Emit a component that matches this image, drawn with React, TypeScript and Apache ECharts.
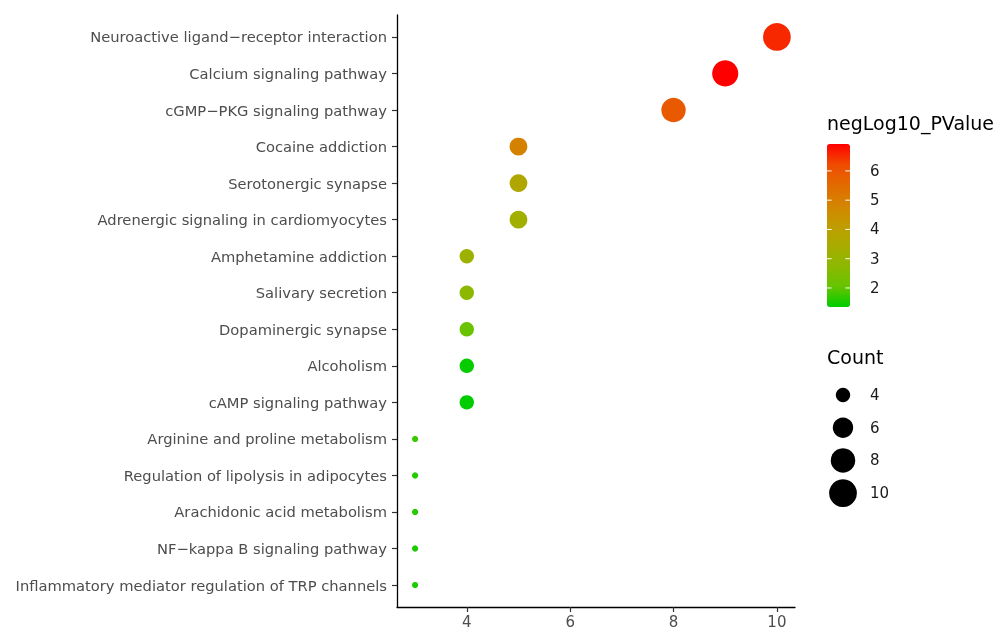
import React, { useEffect, useRef } from "react";
import * as echarts from "echarts";

const CATEGORIES = [
  "Neuroactive ligand\u2212receptor interaction",
  "Calcium signaling pathway",
  "cGMP\u2212PKG signaling pathway",
  "Cocaine addiction",
  "Serotonergic synapse",
  "Adrenergic signaling in cardiomyocytes",
  "Amphetamine addiction",
  "Salivary secretion",
  "Dopaminergic synapse",
  "Alcoholism",
  "cAMP signaling pathway",
  "Arginine and proline metabolism",
  "Regulation of lipolysis in adipocytes",
  "Arachidonic acid metabolism",
  "NF\u2212kappa B signaling pathway",
  "Inflammatory mediator regulation of TRP channels",
];
const COUNTS = [10, 9, 8, 5, 5, 5, 4, 4, 4, 4, 4, 3, 3, 3, 3, 3];
const NEG_LOG10_P = [6.55, 6.92, 5.9, 4.9, 3.65, 3.25, 3.15, 2.75, 2.1, 1.4, 1.35, 1.75, 1.6, 1.6, 1.55, 1.55];
const X_TICKS = [4, 6, 8, 10];
const COLOR_TICKS = [2, 3, 4, 5, 6];
const SIZE_BREAKS = [4, 6, 8, 10];

const P_MIN = 1.35;
const P_MAX = 6.92;
const COUNT_MIN = 3;
const COUNT_MAX = 10;
const GRADIENT = ["#00CD00", "#66C400", "#8CB800", "#A8AC00", "#C09C00", "#D48400", "#E26A00", "#F04B00", "#FF0000"];

const FONT = "DejaVu Sans";

function diameter(count: number): number {
  const t = (count - COUNT_MIN) / (COUNT_MAX - COUNT_MIN);
  const s = 1 + 5 * Math.sqrt(Math.max(0, t));
  return 4.3 * s + 2;
}

export default function App() {
  const ref = useRef<HTMLDivElement>(null);
  useEffect(() => {
    if (!ref.current) return;
    const chart = echarts.init(ref.current, null, { renderer: "svg" });

    const barLeft = 827;
    const barTop = 144;
    const barW = 23;
    const barH = 163;
    const yOf = (v: number) => barTop + (1 - (v - P_MIN) / (P_MAX - P_MIN)) * barH;

    const graphics: any[] = [
      {
        type: "text",
        left: barLeft,
        top: 113,
        style: { text: "negLog10_PValue", fontFamily: FONT, fontSize: 19, fill: "#000" },
      },
    ];
    COLOR_TICKS.forEach((v) => {
      const y = yOf(v);
      graphics.push({ type: "line", shape: { x1: barLeft, y1: y, x2: barLeft + 4.6, y2: y }, style: { stroke: "#fff", lineWidth: 1 }, z: 100 });
      graphics.push({ type: "line", shape: { x1: barLeft + barW - 4.6, y1: y, x2: barLeft + barW, y2: y }, style: { stroke: "#fff", lineWidth: 1 }, z: 100 });
      graphics.push({
        type: "text",
        x: 870,
        y,
        style: { text: String(v), fontFamily: FONT, fontSize: 15, fill: "#1a1a1a", verticalAlign: "middle", align: "left" },
      });
    });
    graphics.push({
      type: "text",
      left: barLeft,
      top: 347,
      style: { text: "Count", fontFamily: FONT, fontSize: 19, fill: "#000" },
    });
    SIZE_BREAKS.forEach((c, i) => {
      const y = 395 + i * 32.7;
      graphics.push({ type: "circle", shape: { cx: 843, cy: y, r: diameter(c) / 2 }, style: { fill: "#000" } });
      graphics.push({
        type: "text",
        x: 870,
        y,
        style: { text: String(c), fontFamily: FONT, fontSize: 15, fill: "#1a1a1a", verticalAlign: "middle", align: "left" },
      });
    });

    const data = CATEGORIES.map((_, i) => [COUNTS[i], i, NEG_LOG10_P[i]]);
    const idx = CATEGORIES.map((_, i) => i);

    chart.setOption({
      animation: false,
      textStyle: { fontFamily: FONT },
      grid: { left: 397, right: 202, top: 15, bottom: 22, containLabel: false, outerBoundsMode: "none" },
      xAxis: {
        type: "value",
        min: 2.65,
        max: 10.35,
        splitLine: { show: false },
        axisLine: { show: true, onZero: false, lineStyle: { color: "#000", width: 1.3 } },
        axisTick: { show: true, length: 5, customValues: X_TICKS, lineStyle: { color: "#333", width: 1.2 } },
        axisLabel: { customValues: X_TICKS, fontSize: 15, lineHeight: 15, color: "#4D4D4D", margin: 7, fontFamily: FONT },
      },
      yAxis: {
        type: "value",
        inverse: true,
        min: -0.6,
        max: CATEGORIES.length - 1 + 0.6,
        splitLine: { show: false },
        axisLine: { show: true, onZero: false, lineStyle: { color: "#000", width: 1.3 } },
        axisTick: { show: true, length: 5, customValues: idx, lineStyle: { color: "#333", width: 1.2 } },
        axisLabel: {
          customValues: idx,
          fontSize: 14.7,
          color: "#4D4D4D",
          margin: 10,
          fontFamily: FONT,
          formatter: (v: number) => CATEGORIES[Math.round(v)] ?? "",
        },
      },
      visualMap: {
        type: "continuous",
        seriesIndex: 0,
        dimension: 2,
        min: P_MIN,
        max: P_MAX,
        calculable: false,
        show: true,
        left: barLeft,
        top: barTop,
        itemWidth: barW,
        itemHeight: barH,
        padding: 0,
        text: null,
        inRange: { color: GRADIENT },
      },
      series: [
        {
          type: "scatter",
          data,
          symbol: "circle",
          symbolSize: (val: number[]) => diameter(val[0]),
          itemStyle: { opacity: 1 },
        },
      ],
      graphic: graphics,
    });
    return () => chart.dispose();
  }, []);
  return <div ref={ref} style={{ position: "fixed", left: 0, top: 0, width: 997, height: 629 }} />;
}
